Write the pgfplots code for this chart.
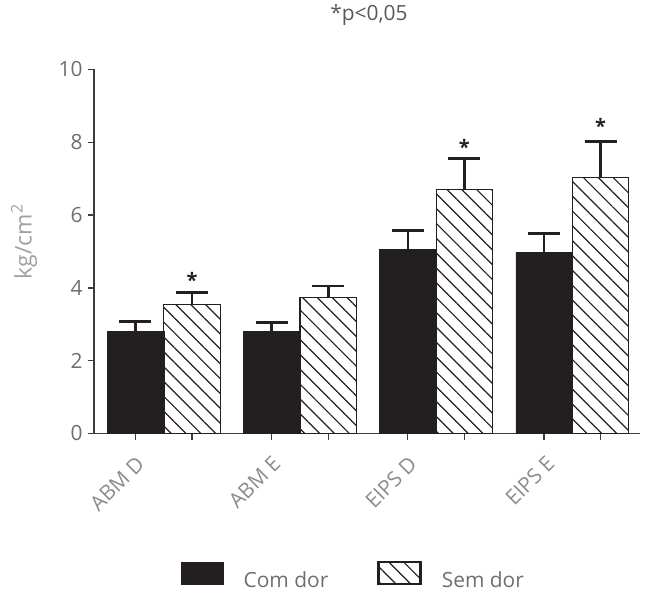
\documentclass[border=0pt]{standalone}
\usepackage{fontspec}
\setmainfont{Open Sans}
\usepackage{pgfplots}
\pgfplotsset{compat=1.18}
\usepackage{pgfplotstable}
\usetikzlibrary{patterns.meta}
\definecolor{barblack}{HTML}{231F20}
\definecolor{axiscol}{HTML}{3C3C3C}
\definecolor{ytcol}{HTML}{6D6E71}
\definecolor{xtcol}{HTML}{8C8C8C}
\definecolor{ylcol}{HTML}{A0A0A0}
\definecolor{legcol}{HTML}{6D6E71}
\definecolor{titcol}{HTML}{58595B}

\pgfplotstableread{
x y err
0 2.80 0.28
1 2.80 0.25
2 5.06 0.52
3 4.97 0.52
}\comdor
\pgfplotstableread{
x y err
0 3.55 0.33
1 3.74 0.31
2 6.70 0.86
3 7.03 0.99
}\semdor

\begin{document}
\begin{tikzpicture}
\begin{axis}[
 at={(0,0)}, anchor=south west,
 scale only axis, width=545.5bp, height=364bp,
 xmin=-0.512, xmax=3.493, ymin=0, ymax=10,
 axis lines*=left,
 axis line style={axiscol, line width=1.4bp},
 ytick={0,2,4,6,8,10},
 xtick={-0.2075,0.2075,0.7925,1.2075,1.7925,2.2075,2.7925,3.2075},
 xticklabels={},
 extra x ticks={-0.21,0.79,1.79,2.80},
 extra x tick labels={ABM D,ABM E,EIPS D,EIPS E},
 extra x tick style={xtick style={draw=none}, xticklabel style={rotate=45, anchor=north east, inner sep=0pt, font=\fontsize{21}{25}\selectfont, text=xtcol}, xticklabel shift=15bp},
 tick align=outside, major tick length=6bp,
 tick style={axiscol, line width=1.2bp},
 yticklabel style={font=\fontsize{21}{25}\selectfont, text=ytcol, xshift=-2bp},
 /pgf/number format/assume math mode=true,
 ylabel={kg/cm\textsuperscript{2}},
 ylabel style={at={(axis description cs:-0.128,0.527)}, anchor=center, font=\fontsize{23}{27}\selectfont, text=ylcol},
 title={*p<0,05},
 title style={at={(axis description cs:0.504,1.1176)}, anchor=base, font=\fontsize{21}{25}\selectfont, text=titcol},
 ybar, bar width=0.415,
 clip=false,
 legend columns=2, legend cell align=left,
 legend style={at={(axis description cs:0.1595,-0.3484)}, anchor=north west, draw=none, fill=none, inner sep=0pt, font=\fontsize{21}{25}\selectfont, text=legcol, nodes={text depth=0pt}, /tikz/every odd column/.append style={column sep=18bp}, /tikz/every even column/.append style={column sep=47bp}},
 error bars/y dir=plus, error bars/y explicit,
 error bars/error bar style={barblack, line width=2.6bp},
 error bars/error mark options={rotate=90, barblack, line width=2.6bp, mark size=16bp},
]
\addplot[fill=barblack, draw=barblack, bar shift=-0.2075,
  legend image code/.code={\fill[barblack] (0bp,-4bp) rectangle (42bp,18bp);}]
  table[x=x,y=y,y error=err]{\comdor};
\addplot[draw=barblack, line width=1.2bp, pattern={Lines[angle=-45,distance=10.5bp,line width=1.2bp]}, pattern color=barblack, bar shift=0.2075,
  legend image code/.code={\draw[barblack, line width=2.5bp, pattern={Lines[angle=-45,distance=10.5bp,line width=1.2bp]}, pattern color=barblack] (0bp,-4bp) rectangle (42bp,18bp);}]
  table[x=x,y=y,y error=err]{\semdor};
\legend{Com dor, Sem dor}
\node[font=\fontsize{20}{24}\selectfont\bfseries, text=barblack, anchor=base, yshift=-11.6bp] at (axis cs:0.2075,4.33) {*};
\node[font=\fontsize{20}{24}\selectfont\bfseries, text=barblack, anchor=base, yshift=-11.6bp] at (axis cs:2.2075,7.99) {*};
\node[font=\fontsize{20}{24}\selectfont\bfseries, text=barblack, anchor=base, yshift=-11.6bp] at (axis cs:3.2075,8.55) {*};
\end{axis}
\pgfresetboundingbox
\path[use as bounding box] (-94bp,-155.5bp) rectangle (560bp,433.5bp);
\end{tikzpicture}
\end{document}
